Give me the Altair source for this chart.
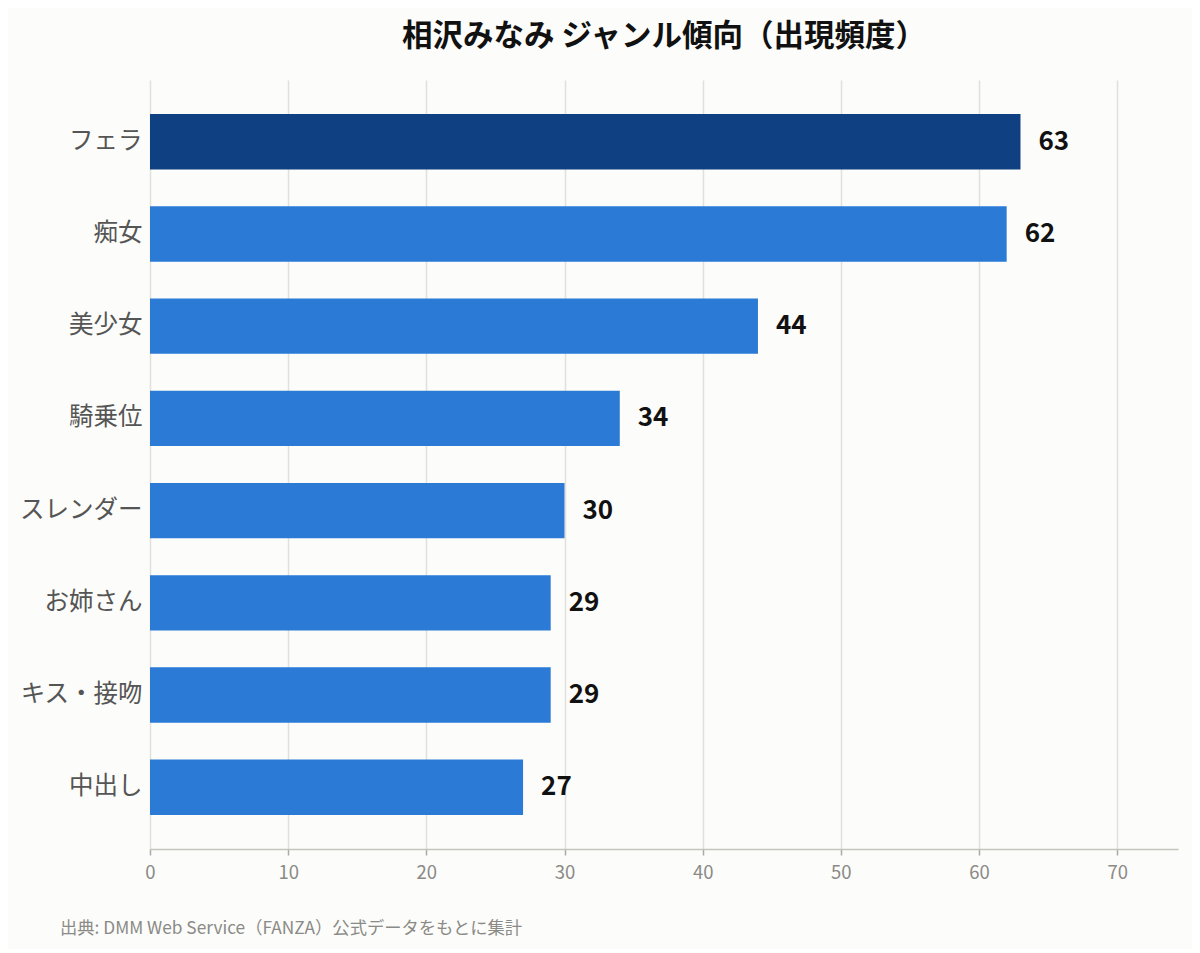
import altair as alt
import pandas as pd

categories = ["フェラ", "痴女", "美少女", "騎乗位", "スレンダー", "お姉さん", "キス・接吻", "中出し"]
counts = [63, 62, 44, 34, 30, 29, 29, 27]
highlight = [True, False, False, False, False, False, False, False]
x_ticks = [0, 10, 20, 30, 40, 50, 60, 70]

FONT = "Noto Sans CJK JP"

df = pd.DataFrame({"genre": categories, "count": counts, "top": highlight})

W, H = 1028, 769

base = alt.Chart(df)

bars = base.mark_bar().encode(
    x=alt.X("count:Q",
            scale=alt.Scale(domain=[0, 74.4], nice=False, zero=True),
            axis=alt.Axis(values=x_ticks, title=None, grid=True, gridColor="#e0e0dc",
                          gridWidth=1.5, domain=True, domainColor="#c4c4bc", domainWidth=1.5,
                          tickColor="#aaaaa4", tickWidth=1.5, tickSize=6, labelColor="#8a8a86",
                          labelFontSize=18.5, labelPadding=8, labelFont=FONT, labelFlush=False)),
    y=alt.Y("genre:N", sort=categories,
            scale=alt.Scale(paddingInner=0.4, paddingOuter=0.37),
            axis=alt.Axis(title=None, domain=False, ticks=False, grid=False,
                          labelColor="#555555", labelFontSize=24.5, labelPadding=8,
                          labelFont=FONT)),
    color=alt.Color("top:N", scale=alt.Scale(domain=[True, False], range=["#0f4081", "#2a7ad6"]),
                    legend=None),
)

labels = base.mark_text(align="left", baseline="middle", dx=18, fontSize=26,
                        fontWeight="bold", color="#111111", font=FONT).encode(
    x="count:Q",
    y=alt.Y("genre:N", sort=categories),
    text="count:Q",
)

source = alt.Chart(pd.DataFrame({"t": ["出典: DMM Web Service（FANZA）公式データをもとに集計"]})).mark_text(
    align="left", baseline="middle", fontSize=17.3, color="#8a8a86", font=FONT
).encode(x=alt.value(-90), y=alt.value(H + 80), text="t:N")

chart = alt.layer(bars, labels, source).properties(
    width=W, height=H,
    background="#fcfcfa",
    autosize=alt.AutoSizeParams(type="none"),
    padding={"left": 142, "top": 72, "right": 14, "bottom": 100},
    title=alt.TitleParams("相沢みなみ ジャンル傾向（出現頻度）", fontSize=30.5, fontWeight="bold",
                          color="#111111", font=FONT, anchor="middle", frame="group", offset=28),
).configure_view(stroke=None)

chart.save("out.html", embed_options={"renderer": "svg", "actions": False})
